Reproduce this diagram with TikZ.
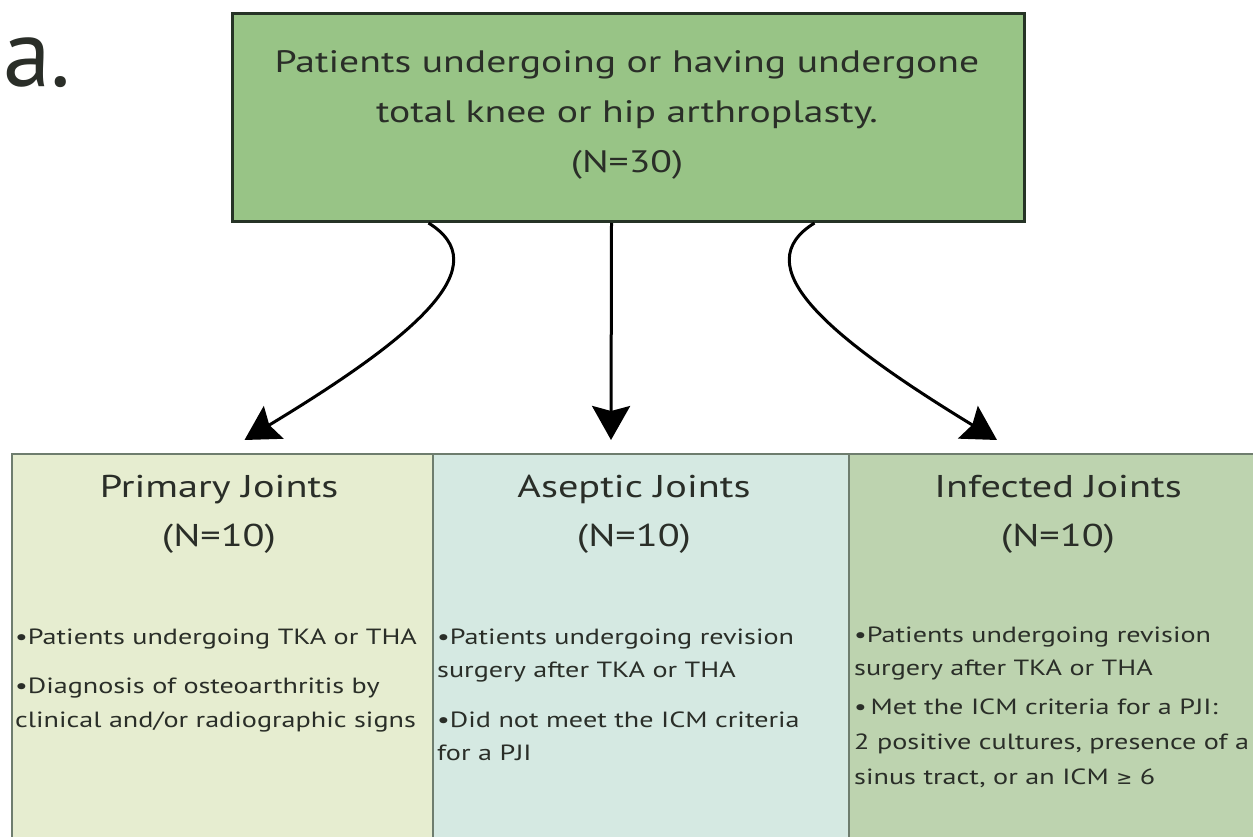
\documentclass[tikz,border=0pt]{standalone}
\usepackage{fontspec}
\setmainfont{PT Sans}
\newfontfamily\widefont{PT Sans}[FakeStretch=1.28]
\newfontfamily\symf{DejaVu Sans}
\usetikzlibrary{arrows.meta,calc}
\definecolor{topfill}{HTML}{98C486}
\definecolor{topline}{HTML}{263326}
\definecolor{primfill}{HTML}{E6EDD0}
\definecolor{asepfill}{HTML}{D5E9E2}
\definecolor{inffill}{HTML}{BDD3AF}
\definecolor{boxline}{HTML}{6E7D6E}
\definecolor{txtcol}{HTML}{2A2E28}
\tikzset{
  topbox/.style={draw=topline, fill=topfill, line width=3pt, inner sep=0, anchor=north west},
  grpbox/.style={draw=boxline, line width=2pt, inner sep=0, anchor=north west, minimum height=450pt},
  ttxt/.style={inner sep=0, anchor=base, text=txtcol, font=\widefont\fontsize{31}{31}\selectfont},
  htxt/.style={inner sep=0, anchor=base, text=txtcol, font=\widefont\fontsize{31.5}{31.5}\selectfont},
  btxt/.style={inner sep=0, anchor=base west, text=txtcol, font=\widefont\fontsize{22}{22}\selectfont},
  conn/.style={line width=3pt, draw=black, -{Stealth[length=34pt, width=38pt, inset=5pt]}},
}
\begin{document}
\begin{tikzpicture}[x=1pt, y=-1pt]
\useasboundingbox (0,0) rectangle (1253,837);
\fill[white] (0,0) rectangle (1253,837);

\node[inner sep=0, anchor=base west, text=txtcol, font=\fontsize{96}{96}\selectfont] (lbl) at (3,87) {a.};

\node[topbox, minimum width=792pt, minimum height=208pt] (top) at (231,12) {};
\node[ttxt] (t1) at (627,73) {Patients undergoing or having undergone};
\node[ttxt] (t2) at (627,123) {total knee or hip arthroplasty.};
\node[ttxt] (t3) at (627,173) {(N=30)};

\node[grpbox, fill=primfill, minimum width=421pt] (pj) at (11,453) {};
\node[grpbox, fill=asepfill, minimum width=416pt] (aj) at (432,453) {};
\node[grpbox, fill=inffill, minimum width=460pt] (ij) at (848,453) {};

\node[htxt] (ph) at (219,497) {Primary Joints};
\node[htxt] (pn) at (219,546) {(N=10)};
\node[htxt] (ah) at (634,497) {Aseptic Joints};
\node[htxt] (an) at (634,546) {(N=10)};
\node[htxt] (ih) at (1058,497) {Infected Joints};
\node[htxt] (in) at (1058,546) {(N=10)};

\node[btxt] (p1) at (15,644) {•Patients undergoing TKA or THA};
\node[btxt] (p2) at (15,693) {•Diagnosis of osteoarthritis by};
\node[btxt] (p3) at (15,727) {clinical and/or radiographic signs};

\node[btxt] (a1) at (437,644) {•Patients undergoing revision};
\node[btxt] (a2) at (437,677) {surgery after TKA or THA};
\node[btxt] (a3) at (437,727) {•Did not meet the ICM criteria};
\node[btxt] (a4) at (437,760) {for a PJI};

\node[btxt] (i1) at (854,642) {•Patients undergoing revision};
\node[btxt] (i2) at (854,675) {surgery after TKA or THA};
\node[btxt] (i3) at (854,714) {•\,Met the ICM criteria for a PJI:};
\node[btxt] (i4) at (854,749) {2 positive cultures, presence of a};
\node[btxt] (i5) at (854,784) {sinus tract, or an ICM {\symf\fontsize{19}{19}\selectfont ≥} 6};

\draw[conn] ($(top.south)+(-200,0)$) .. controls ($(top.south)+(-132,42)$) and ($(top.south)+(-207,110)$) .. ($(pj.north)+(22,-13)$);
\draw[conn] ($(top.south)+(-17,0)$) -- ($(aj.north)+(-30,-13)$);
\draw[conn] ($(top.south)+(186,0)$) .. controls ($(top.south)+(118,42)$) and ($(top.south)+(193,110)$) .. ($(ij.north)+(-82,-13)$);
\end{tikzpicture}
\end{document}
